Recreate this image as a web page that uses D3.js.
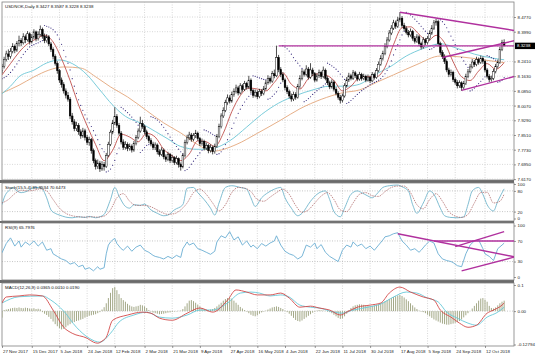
<!DOCTYPE html>
<html><head><meta charset="utf-8">
<script src="https://cdn.jsdelivr.net/npm/d3@7"></script>
<style>body{margin:0;background:#fff}svg{display:block}text{font-family:"Liberation Sans",Arial,sans-serif}</style>
</head><body><svg id="c" width="536" height="358"></svg>
<script>
// ---------- DATA ----------
const title = "USDNOK,Daily 8.3427 8.3587 8.3228 8.3238";
const dateLabels = ["27 Nov 2017","15 Dec 2017","5 Jan 2018","24 Jan 2018","12 Feb 2018","2 Mar 2018","21 Mar 2018","9 Apr 2018","27 Apr 2018","16 May 2018","4 Jun 2018","22 Jun 2018","11 Jul 2018","30 Jul 2018","17 Aug 2018","5 Sep 2018","24 Sep 2018","12 Oct 2018"];
const dateIdx = [0,14,27,40,53,67,80,93,107,120,133,147,160,173,187,200,213,227];
const priceTicks = [8.4770,8.3990,8.2410,8.1630,8.0850,8.0070,7.9290,7.8510,7.7730,7.6950,7.6170];
const priceGrid = [8.4770,8.3990,8.3210,8.2410,8.1630,8.0850,8.0070,7.9290,7.8510,7.7730,7.6950,7.6170];
const lastPrice = 8.3238;

const closes = [
8.215,8.252,8.281,8.268,8.295,8.322,8.301,8.336,8.352,8.340,
8.372,8.356,8.388,8.345,8.371,8.398,8.362,8.385,8.412,8.376,
8.351,8.372,8.334,8.305,8.268,8.231,8.192,8.143,8.118,8.085,
8.062,8.041,7.952,7.921,7.885,7.902,7.868,7.846,7.873,7.838,
7.812,7.826,7.768,7.715,7.684,7.702,7.671,7.695,7.683,7.742,
7.801,7.866,7.915,7.948,7.902,7.861,7.814,7.786,7.802,7.779,
7.792,7.771,7.805,7.838,7.872,7.912,7.896,7.868,7.842,7.821,
7.803,7.784,7.798,7.762,7.748,7.771,7.735,7.722,7.748,7.716,
7.731,7.705,7.726,7.694,7.682,7.741,7.812,7.836,7.851,7.829,
7.848,7.861,7.832,7.805,7.818,7.782,7.795,7.768,7.786,7.762,
7.791,7.842,7.895,7.952,7.981,8.022,8.048,8.031,8.066,8.082,
8.101,8.074,8.112,8.093,8.124,8.105,8.142,8.086,8.061,8.078,
8.054,8.082,8.071,8.096,8.128,8.151,8.137,8.176,8.165,8.262,
8.198,8.172,8.143,8.102,8.081,8.058,8.042,8.066,8.051,8.108,
8.152,8.186,8.173,8.201,8.158,8.196,8.176,8.142,8.165,8.183,
8.161,8.195,8.152,8.128,8.106,8.132,8.094,8.072,8.051,8.036,
8.058,8.112,8.143,8.165,8.152,8.181,8.166,8.148,8.172,8.151,
8.163,8.142,8.158,8.138,8.171,8.156,8.192,8.226,8.258,8.283,
8.322,8.355,8.392,8.418,8.446,8.428,8.462,8.471,8.432,8.415,
8.396,8.382,8.401,8.364,8.348,8.372,8.335,8.318,8.356,8.341,
8.362,8.391,8.418,8.446,8.452,8.335,8.289,8.268,8.241,8.196,
8.172,8.184,8.145,8.131,8.112,8.128,8.102,8.124,8.161,8.186,
8.212,8.238,8.225,8.251,8.236,8.258,8.242,8.196,8.163,8.145,
8.151,8.188,8.214,8.236,8.305,8.342,8.3238];
const opens = [
8.192,8.215,8.252,8.281,8.268,8.295,8.322,8.301,8.336,8.352,
8.340,8.372,8.356,8.388,8.345,8.371,8.398,8.362,8.385,8.412,
8.376,8.351,8.372,8.334,8.305,8.268,8.231,8.192,8.143,8.118,
8.085,8.062,8.041,7.952,7.921,7.885,7.902,7.868,7.846,7.873,
7.838,7.812,7.826,7.768,7.715,7.684,7.702,7.671,7.695,7.683,
7.742,7.801,7.866,7.915,7.948,7.902,7.861,7.814,7.786,7.802,
7.779,7.792,7.771,7.805,7.838,7.872,7.912,7.896,7.868,7.842,
7.821,7.803,7.784,7.798,7.762,7.748,7.771,7.735,7.722,7.748,
7.716,7.731,7.705,7.726,7.694,7.682,7.741,7.812,7.836,7.851,
7.829,7.848,7.861,7.832,7.805,7.818,7.782,7.795,7.768,7.786,
7.762,7.791,7.842,7.895,7.952,7.981,8.022,8.048,8.031,8.066,
8.082,8.101,8.074,8.112,8.093,8.124,8.105,8.142,8.086,8.061,
8.078,8.054,8.082,8.071,8.096,8.128,8.151,8.137,8.176,8.165,
8.262,8.198,8.172,8.143,8.102,8.081,8.058,8.042,8.066,8.051,
8.108,8.152,8.186,8.173,8.201,8.158,8.196,8.176,8.142,8.165,
8.183,8.161,8.195,8.152,8.128,8.106,8.132,8.094,8.072,8.051,
8.036,8.058,8.112,8.143,8.165,8.152,8.181,8.166,8.148,8.172,
8.151,8.163,8.142,8.158,8.138,8.171,8.156,8.192,8.226,8.258,
8.283,8.322,8.355,8.392,8.418,8.446,8.428,8.462,8.471,8.432,
8.415,8.396,8.382,8.401,8.364,8.348,8.372,8.335,8.318,8.356,
8.341,8.362,8.391,8.418,8.446,8.452,8.335,8.289,8.268,8.241,
8.196,8.172,8.184,8.145,8.131,8.112,8.128,8.102,8.124,8.161,
8.186,8.212,8.238,8.225,8.251,8.236,8.258,8.242,8.196,8.163,
8.145,8.151,8.188,8.214,8.236,8.305,8.3427];
const highs = [
8.228,8.266,8.298,8.305,8.312,8.338,8.331,8.349,8.378,8.365,
8.391,8.384,8.402,8.396,8.386,8.412,8.405,8.401,8.432,8.421,
8.389,8.386,8.381,8.345,8.316,8.279,8.242,8.201,8.156,8.131,
8.098,8.079,8.052,7.968,7.935,7.921,7.914,7.881,7.889,7.884,
7.851,7.842,7.835,7.779,7.726,7.721,7.714,7.712,7.708,7.756,
7.815,7.879,7.931,7.998,7.962,7.915,7.872,7.828,7.818,7.812,
7.806,7.801,7.819,7.851,7.886,7.948,7.931,7.906,7.879,7.853,
7.834,7.815,7.812,7.806,7.775,7.786,7.779,7.748,7.762,7.756,
7.746,7.739,7.741,7.732,7.705,7.755,7.826,7.852,7.868,7.862,
7.861,7.878,7.869,7.841,7.832,7.826,7.811,7.804,7.801,7.795,
7.805,7.856,7.911,7.966,7.998,8.038,8.066,8.062,8.081,8.098,
8.118,8.112,8.126,8.121,8.138,8.133,8.165,8.151,8.095,8.092,
8.088,8.096,8.094,8.111,8.142,8.168,8.162,8.191,8.198,8.325,
8.276,8.211,8.184,8.152,8.115,8.092,8.071,8.081,8.078,8.122,
8.168,8.201,8.198,8.221,8.212,8.232,8.208,8.185,8.178,8.198,
8.192,8.214,8.204,8.163,8.139,8.146,8.141,8.105,8.083,8.064,
8.071,8.126,8.158,8.181,8.176,8.196,8.191,8.175,8.186,8.181,
8.176,8.171,8.172,8.166,8.185,8.182,8.206,8.241,8.274,8.298,
8.338,8.371,8.408,8.434,8.462,8.458,8.478,8.502,8.482,8.446,
8.428,8.408,8.416,8.409,8.376,8.386,8.381,8.346,8.371,8.366,
8.376,8.406,8.434,8.461,8.468,8.462,8.346,8.301,8.279,8.252,
8.208,8.198,8.192,8.156,8.142,8.141,8.136,8.138,8.176,8.201,
8.228,8.254,8.249,8.266,8.262,8.272,8.268,8.251,8.206,8.174,
8.166,8.202,8.228,8.251,8.318,8.356,8.3587];
const lows = [
8.178,8.204,8.241,8.249,8.256,8.284,8.285,8.292,8.321,8.322,
8.331,8.338,8.347,8.331,8.336,8.359,8.348,8.352,8.374,8.362,
8.338,8.341,8.322,8.291,8.252,8.219,8.176,8.128,8.102,8.071,
8.045,8.028,7.935,7.906,7.871,7.872,7.852,7.831,7.836,7.822,
7.798,7.794,7.752,7.701,7.668,7.671,7.655,7.661,7.662,7.676,
7.735,7.792,7.855,7.904,7.889,7.848,7.801,7.772,7.774,7.765,
7.768,7.758,7.762,7.796,7.829,7.863,7.884,7.855,7.829,7.808,
7.791,7.772,7.771,7.748,7.736,7.739,7.722,7.708,7.712,7.702,
7.705,7.692,7.695,7.678,7.662,7.674,7.732,7.801,7.824,7.815,
7.818,7.835,7.821,7.792,7.794,7.769,7.771,7.754,7.758,7.748,
7.752,7.783,7.834,7.886,7.941,7.972,8.011,8.018,8.022,8.054,
8.071,8.061,8.066,8.081,8.084,8.092,8.096,8.072,8.048,8.051,
8.041,8.046,8.058,8.062,8.088,8.118,8.124,8.128,8.152,8.158,
8.184,8.158,8.131,8.088,8.068,8.045,8.028,8.031,8.038,8.044,
8.098,8.141,8.161,8.162,8.145,8.149,8.163,8.131,8.134,8.154,
8.148,8.152,8.141,8.116,8.094,8.097,8.082,8.061,8.038,8.018,
8.024,8.049,8.102,8.132,8.141,8.143,8.154,8.136,8.139,8.139,
8.142,8.131,8.134,8.126,8.131,8.145,8.149,8.184,8.218,8.246,
8.274,8.311,8.346,8.381,8.408,8.414,8.419,8.451,8.421,8.402,
8.384,8.369,8.372,8.351,8.336,8.339,8.322,8.305,8.309,8.329,
8.331,8.352,8.382,8.408,8.431,8.321,8.276,8.254,8.228,8.184,
8.158,8.161,8.132,8.118,8.098,8.101,8.085,8.092,8.116,8.152,
8.178,8.204,8.212,8.216,8.224,8.228,8.229,8.184,8.151,8.131,
8.134,8.142,8.178,8.204,8.228,8.296,8.3228];
const psar = [
8.150,8.155,8.162,8.172,8.183,8.196,8.212,8.228,8.246,8.262,
8.279,8.293,8.306,8.318,8.326,8.330,8.336,8.340,8.346,8.352,
8.432,8.428,8.424,8.418,8.410,8.398,8.382,8.360,8.332,8.300,
8.266,8.232,8.196,8.150,8.110,8.072,8.038,8.008,7.982,7.958,
7.936,7.916,7.896,7.874,7.850,7.826,7.800,7.779,7.762,7.655,
7.660,7.670,7.690,7.716,7.752,7.782,7.998,7.990,7.980,7.970,
7.958,7.946,7.932,7.918,7.903,7.758,7.770,7.784,7.796,7.800,
7.948,7.944,7.938,7.930,7.920,7.906,7.892,7.876,7.858,7.840,
7.822,7.806,7.790,7.776,7.762,7.750,7.662,7.668,7.680,7.696,
7.712,7.726,7.742,7.756,7.770,7.878,7.874,7.868,7.862,7.855,
7.848,7.748,7.752,7.762,7.778,7.800,7.826,7.856,7.886,7.914,
7.942,7.966,7.988,8.008,8.026,8.042,8.056,8.068,8.165,8.162,
8.158,8.154,8.150,8.146,8.144,8.041,8.046,8.056,8.068,8.080,
8.104,8.126,8.325,8.318,8.308,8.296,8.280,8.262,8.246,8.232,
8.218,8.204,8.028,8.034,8.044,8.054,8.066,8.076,8.086,8.095,
8.104,8.112,8.122,8.232,8.226,8.218,8.210,8.200,8.188,8.174,
8.160,8.146,8.018,8.024,8.034,8.044,8.056,8.066,8.076,8.086,
8.094,8.102,8.110,8.118,8.124,8.130,8.135,8.142,8.150,8.162,
8.176,8.194,8.216,8.244,8.276,8.304,8.330,8.356,8.382,8.400,
8.502,8.496,8.488,8.478,8.466,8.454,8.442,8.428,8.414,8.402,
8.390,8.305,8.308,8.316,8.328,8.468,8.462,8.452,8.438,8.420,
8.398,8.376,8.354,8.330,8.306,8.284,8.262,8.244,8.226,8.210,
8.085,8.090,8.100,8.112,8.124,8.136,8.148,8.160,8.272,8.268,
8.262,8.256,8.248,8.131,8.134,8.142,8.156];

// moving averages: [bar index, value]
const maRed = [[0,8.170],[4,8.230],[8,8.290],[12,8.335],[16,8.360],[20,8.380],[24,8.345],[28,8.255],[32,8.140],[36,8.010],[40,7.900],[44,7.800],[48,7.715],[52,7.770],[56,7.855],[60,7.840],[64,7.815],[68,7.860],[72,7.840],[76,7.775],[80,7.740],[84,7.715],[88,7.750],[92,7.820],[96,7.815],[100,7.790],[104,7.860],[108,7.975],[112,8.060],[116,8.100],[120,8.095],[124,8.085],[128,8.130],[132,8.180],[136,8.120],[140,8.095],[144,8.150],[148,8.175],[152,8.170],[156,8.140],[160,8.085],[164,8.110],[168,8.155],[172,8.160],[176,8.160],[180,8.210],[184,8.330],[188,8.420],[192,8.425],[196,8.385],[200,8.350],[204,8.380],[208,8.340],[212,8.240],[216,8.160],[220,8.140],[224,8.190],[228,8.230],[232,8.200],[236,8.235]];
const maCyan = [[0,8.070],[4,8.110],[8,8.160],[15,8.195],[21,8.233],[27,8.249],[33,8.230],[40,8.170],[46,8.090],[52,8.010],[58,7.950],[65,7.915],[72,7.870],[78,7.830],[84,7.790],[92,7.775],[99,7.780],[107,7.820],[115,7.893],[122,7.960],[130,8.020],[138,8.060],[146,8.090],[154,8.110],[162,8.110],[168,8.120],[175,8.170],[182,8.210],[190,8.270],[198,8.310],[206,8.335],[214,8.310],[222,8.280],[230,8.260],[236,8.250]];
const maTan = [[0,8.074],[8,8.115],[15,8.159],[22,8.195],[29,8.212],[37,8.206],[44,8.160],[51,8.106],[59,8.053],[68,7.980],[76,7.915],[84,7.862],[92,7.800],[99,7.765],[110,7.800],[120,7.860],[131,7.930],[140,7.990],[150,8.040],[160,8.075],[168,8.090],[176,8.130],[184,8.170],[195,8.225],[206,8.270],[216,8.265],[226,8.250],[236,8.235]];

// trend lines: [[bar, value],[bar, value]]
const mainTrend = [[[130,8.3238],[241,8.3238]],[[187,8.502],[241,8.405]],[[207,8.262],[241,8.352]],[[216,8.088],[241,8.162]]];
const rsiTrend = [[[186,84],[241,39]],[[203,70],[241,70]],[[213,59],[236,88]],[[216,12],[241,39]]];

// Stochastic (15,5,4)
const stochK = [[0,40],[1,60],[4,85],[5,90],[7,80],[9,75],[12,80],[14,88],[17,90],[19,85],[21,60],[23,25],[25,15],[27,10],[30,4],[33,2],[36,5],[39,3],[41,6],[44,2],[46,5],[48,12],[51,55],[53,90],[55,65],[58,35],[60,30],[62,40],[65,38],[67,42],[70,25],[73,15],[76,8],[78,10],[81,25],[85,40],[87,88],[90,90],[92,75],[95,55],[98,30],[100,10],[102,45],[105,90],[108,95],[112,90],[115,85],[117,60],[119,35],[122,60],[125,75],[128,85],[131,90],[133,60],[136,30],[139,8],[141,15],[145,50],[148,70],[152,80],[154,55],[156,20],[159,5],[161,30],[164,70],[167,80],[169,75],[172,65],[174,60],[176,70],[179,90],[182,95],[186,97],[188,92],[191,80],[193,40],[195,15],[198,45],[201,80],[203,70],[206,30],[208,8],[211,3],[214,2],[217,5],[219,40],[221,80],[224,90],[226,70],[228,40],[231,22],[233,50],[236,85.95]];
const stochD = [[0,45],[3,55],[6,72],[9,82],[12,80],[15,82],[18,86],[21,80],[24,55],[27,30],[30,15],[33,8],[36,5],[39,4],[42,5],[45,4],[48,7],[51,25],[54,60],[57,72],[60,50],[63,38],[66,38],[69,36],[72,28],[75,18],[78,12],[81,14],[84,25],[87,45],[90,75],[93,85],[96,70],[99,45],[102,22],[105,40],[108,75],[111,90],[114,88],[117,78],[120,55],[123,50],[126,62],[129,75],[132,85],[135,70],[138,38],[141,18],[144,25],[147,45],[150,65],[153,75],[156,55],[159,25],[162,20],[165,45],[168,70],[171,75],[174,66],[177,64],[180,78],[183,90],[186,94],[189,94],[192,75],[195,40],[198,28],[201,55],[204,72],[207,50],[210,20],[213,7],[216,3],[219,12],[222,45],[225,75],[228,76],[231,45],[234,50],[236,70.65]];

// RSI(9)
const rsi = [[0,47],[2,65],[4,76],[6,60],[8,70],[9,58],[11,68],[13,62],[15,70],[17,60],[19,68],[21,52],[23,55],[24,45],[26,40],[28,35],[30,32],[32,25],[34,28],[36,20],[38,23],[39,15],[41,18],[43,12],[45,20],[46,15],[48,18],[49,45],[50,62],[51,68],[52,72],[53,75],[54,65],[56,55],[57,52],[59,60],[61,50],[63,58],[65,62],[67,52],[69,48],[71,42],[72,40],[74,38],[76,35],[78,40],[80,36],[82,42],[84,38],[85,55],[87,68],[88,62],[90,66],[92,55],[94,52],[96,48],[98,44],[100,50],[101,68],[103,80],[105,76],[107,88],[109,72],[111,78],[113,62],[115,70],[117,58],[118,62],[120,55],[122,65],[124,60],[126,66],[128,70],[129,80],[131,62],[133,50],[135,45],[137,42],[139,35],[141,40],[143,62],[145,58],[147,66],[148,55],[150,63],[152,48],[154,40],[156,35],[158,30],[160,52],[162,62],[164,58],[165,68],[167,60],[169,64],[171,55],[173,60],[175,52],[177,62],[179,72],[180,78],[182,80],[184,84],[186,86],[188,70],[190,62],[192,52],[194,55],[196,48],[197,52],[199,62],[201,70],[203,66],[205,45],[207,35],[209,32],[211,30],[212,28],[214,22],[216,20],[218,45],[220,62],[222,70],[224,72],[226,55],[227,45],[229,40],[231,32],[233,55],[235,62],[236,65.8]];

// MACD(12,26,9)
const macdMain = [[0,0.031],[2,0.054],[8,0.058],[13,0.062],[19,0.058],[24,0.004],[29,-0.062],[33,-0.085],[40,-0.104],[43,-0.119],[45,-0.123],[47,-0.115],[49,-0.100],[52,-0.035],[59,-0.015],[66,-0.004],[70,-0.008],[74,-0.027],[80,-0.035],[87,-0.008],[93,0.012],[99,-0.004],[106,0.042],[110,0.081],[115,0.073],[120,0.062],[126,0.062],[131,0.069],[135,0.050],[140,0.015],[145,0.019],[149,0.012],[154,0.004],[159,-0.015],[162,-0.004],[167,0.015],[173,0.023],[178,0.031],[182,0.069],[187,0.092],[192,0.073],[198,0.054],[203,0.042],[206,0.004],[211,-0.023],[215,-0.046],[219,-0.062],[223,-0.054],[228,-0.008],[231,0.004],[235,0.023],[236,0.031]];
const macdSignal = [[0,0.031],[8,0.055],[19,0.058],[23,0.042],[29,0.000],[35,-0.062],[41,-0.104],[46,-0.119],[51,-0.085],[55,-0.042],[62,-0.015],[68,-0.004],[74,-0.023],[80,-0.027],[87,-0.015],[93,0.004],[99,0.004],[106,0.031],[112,0.069],[117,0.073],[121,0.069],[126,0.058],[131,0.062],[135,0.054],[140,0.023],[145,0.015],[149,0.012],[156,-0.004],[160,-0.008],[165,0.004],[172,0.015],[178,0.027],[184,0.054],[190,0.073],[195,0.069],[200,0.050],[205,0.035],[209,-0.004],[214,-0.027],[219,-0.046],[223,-0.054],[228,-0.023],[233,-0.004],[236,0.015]];
const macdHist = [
-0.025,0.004,0.006,0.008,0.010,0.012,0.013,0.012,0.014,0.012,
0.011,0.013,0.012,0.010,0.009,0.011,0.008,0.009,0.007,-0.004,
-0.010,-0.015,-0.022,-0.030,-0.040,-0.050,-0.058,-0.065,-0.070,-0.068,
-0.062,-0.055,-0.050,-0.045,-0.042,-0.038,-0.036,-0.033,-0.030,-0.025,
-0.022,-0.018,-0.016,-0.014,-0.012,-0.008,-0.004,0.006,0.015,0.030,
0.050,0.070,0.088,0.092,0.080,0.065,0.050,0.042,0.036,0.028,
0.022,0.018,0.016,0.018,0.020,0.024,0.022,0.018,0.012,0.004,
-0.002,-0.006,-0.008,-0.010,-0.012,-0.011,-0.010,-0.008,-0.006,-0.005,
-0.003,-0.002,-0.001,0.001,0.002,0.008,0.018,0.030,0.040,0.042,
0.038,0.032,0.025,0.018,0.012,0.008,0.006,0.004,0.006,0.008,
0.012,0.018,0.025,0.032,0.040,0.046,0.050,0.052,0.048,0.040,
0.032,0.024,0.016,0.010,0.004,-0.002,-0.008,-0.014,-0.018,-0.020,
-0.016,-0.010,-0.005,-0.002,0.002,0.006,0.010,0.014,0.016,0.018,
0.016,0.012,0.008,0.002,-0.004,-0.010,-0.018,-0.026,-0.034,-0.038,
-0.040,-0.036,-0.030,-0.024,-0.018,-0.012,-0.006,-0.002,0.002,0.004,
0.003,0.002,0.001,-0.002,-0.004,-0.008,-0.014,-0.020,-0.026,-0.030,
-0.028,-0.020,-0.010,0.004,0.012,0.018,0.022,0.024,0.026,0.025,
0.024,0.022,0.020,0.019,0.020,0.022,0.024,0.026,0.030,0.034,
0.038,0.042,0.046,0.050,0.054,0.057,0.060,0.062,0.058,0.052,
0.045,0.038,0.030,0.022,0.014,0.008,0.002,-0.002,-0.004,-0.008,
-0.014,-0.020,-0.026,-0.032,-0.036,-0.040,-0.044,-0.048,-0.050,-0.052,
-0.052,-0.050,-0.048,-0.045,-0.042,-0.038,-0.032,-0.024,-0.016,-0.008,
0.000,0.010,0.020,0.030,0.040,0.048,0.050,0.044,0.036,0.020,
0.012,0.010,0.014,0.022,0.030,0.036,0.040];

const stochLabel = "Stoch(15,5,4) 85.9534 70.6473";
const rsiLabel = "RSI(9) 65.7976";
const macdLabel = "MACD(12,26,9) 0.0365 0.0010 0.0190";

// ---------- DRAW ----------
const svg = d3.select("#c");
const L = 2, R = 514, FS = 4.4;
const P = {main:[2,180], stoch:[183,221], rsi:[223,280], macd:[283,346]};

const x = d3.scaleLinear().domain([0,227]).range([2,485]);
const yMain = d3.scaleLinear().domain([7.617,8.477]).range([179.1,17]);
const yStoch = d3.scaleLinear().domain([0,100]).range([218.5,184]);
const yRsi = d3.scaleLinear().domain([0,100]).range([277,225.5]);
const yMacd = d3.scaleLinear().domain([-0.12794,0.1]).range([344.5,285]);

const defs = svg.append("defs");
Object.entries(P).forEach(([k,[t,b]])=>{
  defs.append("clipPath").attr("id","clip-"+k).append("rect").attr("x",L).attr("y",t).attr("width",R-L).attr("height",b-t);
});

// separators / frames
svg.append("rect").attr("x",0).attr("y",0).attr("width",536).attr("height",358).attr("fill","#fff");
const sepY = [[180,183],[221,223],[280,283]];
sepY.forEach(([a,b])=>svg.append("rect").attr("x",0).attr("y",a).attr("width",R).attr("height",b-a).attr("fill","#6a6a6a"));
Object.values(P).forEach(([t,b])=>{
  svg.append("rect").attr("x",L).attr("y",t).attr("width",R-L).attr("height",b-t).attr("fill","none").attr("stroke","#808080").attr("stroke-width",0.8);
});

// vertical grid
const gridCol = "#bdbdbd";
Object.values(P).forEach(([t,b])=>{
  svg.append("g").selectAll("line").data(dateIdx.slice(1)).join("line")
    .attr("x1",d=>x(d)).attr("x2",d=>x(d)).attr("y1",t).attr("y2",b)
    .attr("stroke",gridCol).attr("stroke-width",0.6).attr("stroke-dasharray","1,1.5");
});
// horizontal grid main
svg.append("g").selectAll("line").data(priceGrid).join("line")
  .attr("x1",L).attr("x2",R).attr("y1",d=>yMain(d)).attr("y2",d=>yMain(d))
  .attr("stroke",gridCol).attr("stroke-width",0.6).attr("stroke-dasharray","1,1.5");
// level lines
[[yStoch,[20,80]],[yRsi,[30,70]],[yMacd,[0]]].forEach(([sc,lv])=>{
  svg.append("g").selectAll("line").data(lv).join("line")
    .attr("x1",L).attr("x2",R).attr("y1",d=>sc(d)).attr("y2",d=>sc(d))
    .attr("stroke","#a0a0a0").attr("stroke-width",0.6).attr("stroke-dasharray","1,1.5");
});

// main panel content
const gMain = svg.append("g").attr("clip-path","url(#clip-main)");
const lineFn = sc => d3.line().x(d=>x(d[0])).y(d=>sc(d[1])).curve(d3.curveMonotoneX);
[[maTan,"#e3a67a"],[maCyan,"#6cc6d6"],[maRed,"#c0504d"]].forEach(([d,c])=>{
  gMain.append("path").datum(d).attr("d",lineFn(yMain)).attr("fill","none").attr("stroke",c).attr("stroke-width",0.9);
});
// PSAR
gMain.append("g").selectAll("circle").data(psar).join("circle")
  .attr("cx",(d,i)=>x(i)).attr("cy",d=>yMain(d)).attr("r",0.6).attr("fill","#3b2f80");
// candles
const idx = d3.range(closes.length);
gMain.append("g").selectAll("line").data(idx).join("line")
  .attr("x1",i=>x(i)).attr("x2",i=>x(i)).attr("y1",i=>yMain(highs[i])).attr("y2",i=>yMain(lows[i]))
  .attr("stroke","#000").attr("stroke-width",0.7);
gMain.append("g").selectAll("rect").data(idx).join("rect")
  .attr("x",i=>x(i)-0.85).attr("width",1.7)
  .attr("y",i=>yMain(Math.max(opens[i],closes[i])))
  .attr("height",i=>Math.max(0.6,Math.abs(yMain(opens[i])-yMain(closes[i]))))
  .attr("fill",i=>closes[i]>=opens[i]?"#fff":"#000").attr("stroke","#000").attr("stroke-width",0.45);
// trend lines
gMain.append("g").selectAll("path").data(mainTrend).join("path")
  .attr("d",d3.line().x(d=>x(d[0])).y(d=>yMain(d[1])))
  .attr("stroke","#b0309e").attr("stroke-width",1.4).attr("fill","none");

// stochastic
const gSt = svg.append("g").attr("clip-path","url(#clip-stoch)");
gSt.append("path").datum(stochK).attr("d",lineFn(yStoch)).attr("fill","none").attr("stroke","#72b6cc").attr("stroke-width",0.9);
gSt.append("path").datum(stochD).attr("d",lineFn(yStoch)).attr("fill","none").attr("stroke","#a85a5a").attr("stroke-width",0.7).attr("stroke-dasharray","1.5,1");

// RSI
const gR = svg.append("g").attr("clip-path","url(#clip-rsi)");
gR.append("path").datum(rsi).attr("d",d3.line().x(d=>x(d[0])).y(d=>yRsi(d[1]))).attr("fill","none").attr("stroke","#6aaed2").attr("stroke-width",0.9);
gR.append("g").selectAll("path").data(rsiTrend).join("path")
  .attr("d",d3.line().x(d=>x(d[0])).y(d=>yRsi(d[1])))
  .attr("stroke","#b0309e").attr("stroke-width",1.4).attr("fill","none");

// MACD
const gM = svg.append("g").attr("clip-path","url(#clip-macd)");
gM.append("g").selectAll("line").data(macdHist).join("line")
  .attr("x1",(d,i)=>x(i)).attr("x2",(d,i)=>x(i)).attr("y1",yMacd(0)).attr("y2",d=>yMacd(d))
  .attr("stroke","#a3a887").attr("stroke-width",1);
gM.append("path").datum(macdSignal).attr("d",lineFn(yMacd)).attr("fill","none").attr("stroke","#68c8d8").attr("stroke-width",0.9);
gM.append("path").datum(macdMain).attr("d",lineFn(yMacd)).attr("fill","none").attr("stroke","#d24848").attr("stroke-width",0.9);

// axes (right)
function rightAxis(sc, vals, fmt){
  const g = svg.append("g").attr("transform",`translate(${R},0)`)
    .call(d3.axisRight(sc).tickValues(vals).tickFormat(fmt).tickSize(2).tickPadding(1.5));
  g.select(".domain").remove();
  g.selectAll("line").attr("stroke","#555").attr("stroke-width",0.6);
  g.selectAll("text").attr("font-size",FS).attr("fill","#222").attr("font-family","Liberation Sans, Arial, sans-serif");
  return g;
}
rightAxis(yMain, priceTicks, d3.format(".4f"));
rightAxis(yStoch, [100,80,20,0], d=>String(d));
rightAxis(yRsi, [100,70,30,0], d=>String(d));
rightAxis(yMacd, [0.1,0,-0.12794], d=> d===0?"0.00":(d===0.1?"0.1":String(d)));
// price box
const pb = svg.append("g");
pb.append("rect").attr("x",R+1).attr("y",yMain(lastPrice)-3.2).attr("width",20).attr("height",6.4).attr("fill","#000");
pb.append("text").attr("x",R+3).attr("y",yMain(lastPrice)+1.6).attr("font-size",FS).attr("fill","#fff").text(lastPrice.toFixed(4));

// date axis
const ga = svg.append("g").attr("transform",`translate(0,${P.macd[1]})`)
  .call(d3.axisBottom(x).tickValues(dateIdx).tickFormat((d,i)=>dateLabels[i]).tickSize(2).tickPadding(2));
ga.select(".domain").remove();
ga.selectAll("line").attr("stroke","#555").attr("stroke-width",0.6);
ga.selectAll("text").attr("font-size",FS).attr("fill","#222").attr("text-anchor","start").attr("dx","0.5");

// labels
const lab = (t,xx,yy)=>svg.append("text").attr("x",xx).attr("y",yy).attr("font-size",FS).attr("fill","#111").text(t);
lab(title,5,8);
lab(stochLabel,5,188.5);
lab(rsiLabel,5,228.5);
lab(macdLabel,5,288.5);
</script></body></html>
